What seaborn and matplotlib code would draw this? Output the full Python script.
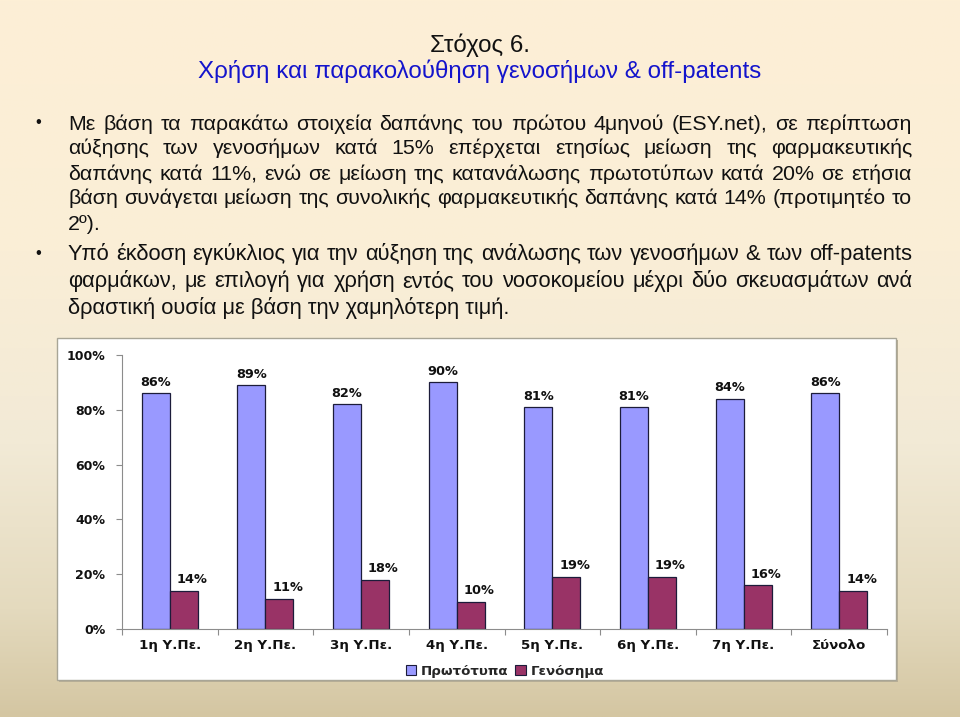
import numpy as np
import pandas as pd
import matplotlib
matplotlib.use("Agg")
import matplotlib.pyplot as plt
from matplotlib import font_manager
from matplotlib.font_manager import FontProperties
from matplotlib.patches import Rectangle
import seaborn as sns

# ---------------- data ----------------
categories = ["1η Υ.Πε.", "2η Υ.Πε.", "3η Υ.Πε.", "4η Υ.Πε.",
              "5η Υ.Πε.", "6η Υ.Πε.", "7η Υ.Πε.", "Σύνολο"]
originals = [86, 89, 82, 90, 81, 81, 84, 86]
generics = [14, 11, 18, 10, 19, 19, 16, 14]
series_names = ["Πρωτότυπα", "Γενόσημα"]
y_ticks = [0, 20, 40, 60, 80, 100]

title_line1 = "Στόχος 6."
title_line2 = "Χρήση και παρακολούθηση γενοσήμων & off-patents"
bullet1_lines = [
    "Με βάση τα παρακάτω στοιχεία δαπάνης του πρώτου 4μηνού (ESY.net), σε περίπτωση",
    "αύξησης των γενοσήμων κατά 15% επέρχεται ετησίως μείωση της φαρμακευτικής",
    "δαπάνης κατά 11%, ενώ σε μείωση της κατανάλωσης πρωτοτύπων κατά 20% σε ετήσια",
    "βάση συνάγεται μείωση της συνολικής φαρμακευτικής δαπάνης κατά 14% (προτιμητέο το",
    "2º).",
]
bullet2_lines = [
    "Υπό έκδοση εγκύκλιος για την αύξηση της ανάλωσης των γενοσήμων & των off-patents",
    "φαρμάκων, με επιλογή για χρήση εντός του νοσοκομείου μέχρι δύο σκευασμάτων ανά",
    "δραστική ουσία με βάση την χαμηλότερη τιμή.",
]

df = pd.DataFrame({
    "cat": categories * 2,
    "val": originals + generics,
    "series": [series_names[0]] * len(categories) + [series_names[1]] * len(categories),
})

# ---------------- figure ----------------
W, H = 960, 717
sns.set_theme(style="white")
fig = plt.figure(figsize=(W / 100, H / 100), dpi=100)

def fx(px):
    return px / W

def fy(py):
    return 1 - py / H

# background gradient
axbg = fig.add_axes([0, 0, 1, 1], zorder=-10)
stops_y = np.array([0.0, 0.35, 0.62, 0.85, 1.0])
stops_c = np.array([
    [253, 239, 214],
    [250, 238, 214],
    [242, 234, 214],
    [228, 218, 190],
    [212, 198, 162],
]) / 255.0
yy = np.linspace(0, 1, 400)
grad = np.stack([np.interp(yy, stops_y, stops_c[:, k]) for k in range(3)], axis=-1)
img = np.repeat(grad[:, None, :], 4, axis=1)
axbg.imshow(img, aspect="auto", extent=[0, 1, 0, 1], origin="upper")
axbg.set_axis_off()

# chart box with slight shadow
fig.patches.append(Rectangle((fx(59), fy(682)), fx(896 - 57), (680 - 338) / H,
                             transform=fig.transFigure, facecolor="#b9af96",
                             edgecolor="none", zorder=-6))
fig.patches.append(Rectangle((fx(57), fy(680)), fx(896 - 57), (680 - 338) / H,
                             transform=fig.transFigure, facecolor="white",
                             edgecolor="#a8a596", lw=1.0, zorder=-5))

# ---------------- chart ----------------
ax = fig.add_axes([fx(122), fy(629), fx(887 - 122), (629 - 355) / H])
ax.patch.set_alpha(0)
blue, red = "#9999FF", "#993366"
sns.barplot(data=df, x="cat", y="val", hue="series", order=categories,
            hue_order=series_names, palette=[blue, red], width=0.585,
            saturation=1, edgecolor="#1c1c3a", linewidth=0.9, ax=ax)
ax.set_xlim(-0.5, len(categories) - 0.5)
ax.set_ylim(0, 100)
ax.set_xlabel("")
ax.set_ylabel("")

chart_font = ["DejaVu Sans"]
for s in ["top", "right"]:
    ax.spines[s].set_visible(False)
for s in ["left", "bottom"]:
    ax.spines[s].set_color("#8c8c8c")
    ax.spines[s].set_linewidth(0.8)

ax.set_yticks(y_ticks)
ax.set_yticklabels([f"{v}%" for v in y_ticks], fontfamily=chart_font,
                   fontweight="bold", fontsize=9, color="#111111")
ax.tick_params(axis="y", which="major", direction="out", length=4, width=0.8,
               color="#8c8c8c", pad=8, left=True)
ax.set_xticks(range(len(categories)))
ax.set_xticklabels(categories, fontfamily=chart_font, fontweight="bold",
                   fontsize=9.6, color="#111111")
ax.tick_params(axis="x", which="major", length=0, pad=14.5)
for lbl in ax.get_xticklabels():
    lbl.set_verticalalignment("baseline")
ax.set_xticks(np.arange(-0.5, len(categories) + 0.5, 1), minor=True)
ax.tick_params(axis="x", which="minor", direction="out", length=4, width=0.8,
               color="#8c8c8c", bottom=True)

# value labels
for ci, cont in enumerate(ax.containers):
    dx = 0 if ci == 0 else 6
    for bar in cont:
        h = bar.get_height()
        cx = bar.get_x() + bar.get_width() / 2
        ax.annotate(f"{h:.0f}%", xy=(cx, h), xytext=(dx, 3.2),
                    textcoords="offset points", ha="center", va="bottom",
                    fontfamily=chart_font, fontweight="bold", fontsize=9.3,
                    color="#111111")

handles, labels = ax.get_legend_handles_labels()
if ax.get_legend() is not None:
    ax.get_legend().remove()
fig.legend(handles, labels, loc="center", bbox_to_anchor=(fx(505), fy(671)),
           ncol=2, frameon=False, handlelength=0.8, handleheight=0.8,
           handletextpad=0.35, columnspacing=0.5,
           prop=FontProperties(family=chart_font, weight="bold", size=9.6))
for lh in fig.legends[0].legend_handles:
    lh.set_edgecolor("#1c1c3a")
    lh.set_linewidth(0.8)

# ---------------- slide text ----------------
def has_font(name):
    try:
        font_manager.findfont(FontProperties(family=name), fallback_to_default=False)
        return True
    except Exception:
        return False

regular_family = "Liberation Sans"
narrow_family = "Liberation Sans Narrow" if has_font("Liberation Sans Narrow") else "Liberation Sans"

renderer = fig.canvas.get_renderer()

def text_width(s, fp):
    return renderer.get_text_width_height_descent(s, fp, ismath=False)[0]

def fit_size(lines, family, target, weight="normal"):
    fp = FontProperties(family=family, size=10, weight=weight)
    wmax = max(text_width(l, fp) for l in lines)
    return 10 * target / wmax

def draw_line(text, x0, x1, ybase, fp, justify, color="#111111"):
    words = text.split(" ")
    if not justify or len(words) == 1:
        fig.text(fx(x0), fy(ybase), text, fontproperties=fp, va="baseline",
                 ha="left", color=color)
        return
    widths = [text_width(w, fp) for w in words]
    gap = (x1 - x0 - sum(widths)) / (len(words) - 1)
    x = x0
    for w, wd in zip(words, widths):
        fig.text(fx(x), fy(ybase), w, fontproperties=fp, va="baseline",
                 ha="left", color=color)
        x += wd + gap

# title
t2_size = fit_size([title_line2], narrow_family, 565)
fp_t = FontProperties(family=narrow_family, size=t2_size)
fig.text(0.5, fy(52), title_line1, fontproperties=fp_t, ha="center",
         va="baseline", color="#111111")
fig.text(0.5, fy(78), title_line2, fontproperties=fp_t, ha="center",
         va="baseline", color="#1414CC")

# bullet 1
x_left, x_right = 68, 912
b1_size = fit_size(bullet1_lines[:4], regular_family, x_right - x_left)
fp_b1 = FontProperties(family=regular_family, size=b1_size)
b1_base = [129.5, 154.5, 179.5, 204.5, 230.5]
for i, (line, yb) in enumerate(zip(bullet1_lines, b1_base)):
    draw_line(line, x_left, x_right, yb, fp_b1, justify=(i < len(bullet1_lines) - 1))
fig.text(fx(38), fy(123), "•", fontproperties=FontProperties(family=regular_family, size=12),
         ha="center", va="center", color="#111111")

# bullet 2
b2_size = fit_size(bullet2_lines[:2], narrow_family, x_right - x_left)
fp_b2 = FontProperties(family=narrow_family, size=b2_size)
b2_base = [260, 287, 314]
for i, (line, yb) in enumerate(zip(bullet2_lines, b2_base)):
    draw_line(line, x_left, x_right, yb, fp_b2, justify=(i < len(bullet2_lines) - 1))
fig.text(fx(38), fy(254), "•", fontproperties=FontProperties(family=regular_family, size=12),
         ha="center", va="center", color="#111111")

fig.savefig("out.png", dpi=100)
